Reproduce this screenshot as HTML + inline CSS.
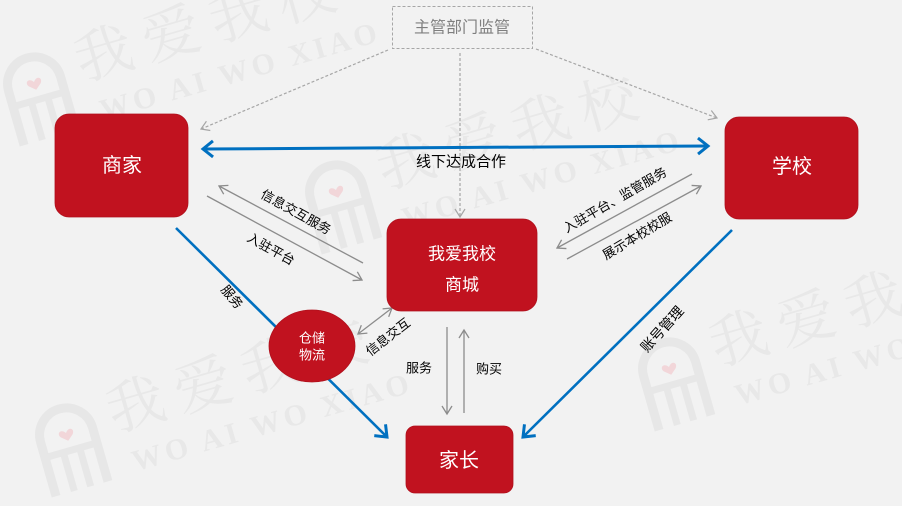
<!DOCTYPE html>
<html><head><meta charset="utf-8"><style>
html,body{margin:0;padding:0;background:#f2f2f2;}
svg{display:block;}
text{font-family:"Liberation Sans","Noto Sans CJK SC",sans-serif;}
.wm{fill:#e8e8e8;}
</style></head><body>
<svg width="902" height="506" viewBox="0 0 902 506" xmlns="http://www.w3.org/2000/svg">
<defs>
<marker id="bh" markerUnits="userSpaceOnUse" markerWidth="24" markerHeight="24" refX="12" refY="12" orient="auto-start-reverse" viewBox="0 0 24 24">
<path d="M2,4 L12,12 L2,20" fill="none" stroke="#0070c0" stroke-width="3"/>
</marker>
<marker id="gh" markerUnits="userSpaceOnUse" markerWidth="20" markerHeight="20" refX="10" refY="10" orient="auto-start-reverse" viewBox="0 0 20 20">
<path d="M2,5 L10,10 L2,15" fill="none" stroke="#8c8c8c" stroke-width="1.3"/>
</marker>
<marker id="dh" markerUnits="userSpaceOnUse" markerWidth="20" markerHeight="20" refX="10" refY="10" orient="auto" viewBox="0 0 20 20">
<path d="M2,5 L10,10 L2,15" fill="none" stroke="#a6a6a6" stroke-width="1.2"/>
</marker>
<g id="wmk">
<path d="M5,88 L5,32 A27,27 0 0 1 59,32 L59,88" fill="none" stroke="#e7e7e7" stroke-width="9"/>
<path d="M5,48 L59,48 M24,48 L24,88 M41,48 L41,88" fill="none" stroke="#e7e7e7" stroke-width="7"/>
<path d="M32,30 C28,24 22,28 26,33 L32,38 L38,33 C42,28 36,24 32,30 Z" fill="#f2d6d9"/>
<text x="78" y="42" font-size="58" class="wm" style="font-family:'Noto Serif CJK SC',serif;letter-spacing:12px">我爱我校</text>
<text x="88" y="86" font-size="30" font-weight="bold" class="wm" style="font-family:'Liberation Serif',serif;letter-spacing:4px">WO AI WO XIAO</text>
</g>
</defs>
<rect width="902" height="506" fill="#f2f2f2"/>
<!-- watermarks -->
<use href="#wmk" transform="translate(-5,62) rotate(-16)"/>
<use href="#wmk" transform="translate(297,170) rotate(-16)"/>
<use href="#wmk" transform="translate(27,413) rotate(-16)"/>
<use href="#wmk" transform="translate(630,347) rotate(-16)"/>

<!-- supervision box -->
<rect x="392.5" y="6.5" width="140" height="42" fill="#f2f2f2" stroke="#a6a6a6" stroke-width="1" stroke-dasharray="3,2"/>
<text x="462" y="28" font-size="16" fill="#7f7f7f" text-anchor="middle" dominant-baseline="central">主管部门监管</text>
<!-- dashed arrows -->
<line x1="388" y1="50" x2="201" y2="129" stroke="#a6a6a6" stroke-width="1.2" stroke-dasharray="3,2" marker-end="url(#dh)"/>
<line x1="460" y1="53" x2="460" y2="217" stroke="#a6a6a6" stroke-width="1.2" stroke-dasharray="3,2" marker-end="url(#dh)"/>
<line x1="536" y1="49" x2="717" y2="118" stroke="#a6a6a6" stroke-width="1.2" stroke-dasharray="3,2" marker-end="url(#dh)"/>

<!-- blue lines -->
<line x1="203" y1="149" x2="708" y2="146" stroke="#0070c0" stroke-width="3" marker-start="url(#bh)" marker-end="url(#bh)"/>
<line x1="176" y1="228" x2="387" y2="437" stroke="#0070c0" stroke-width="2.6" marker-end="url(#bh)"/>
<line x1="732" y1="230" x2="523" y2="437" stroke="#0070c0" stroke-width="2.6" marker-end="url(#bh)"/>

<!-- gray arrows -->
<line x1="363" y1="263" x2="219" y2="186" stroke="#8c8c8c" stroke-width="1.3" marker-end="url(#gh)"/>
<line x1="207" y1="196" x2="362" y2="280" stroke="#8c8c8c" stroke-width="1.3" marker-end="url(#gh)"/>
<line x1="692" y1="174" x2="557" y2="248" stroke="#8c8c8c" stroke-width="1.3" marker-end="url(#gh)"/>
<line x1="567" y1="259" x2="701" y2="186" stroke="#8c8c8c" stroke-width="1.3" marker-end="url(#gh)"/>
<line x1="358" y1="334" x2="392" y2="308" stroke="#8c8c8c" stroke-width="1.3" marker-start="url(#gh)" marker-end="url(#gh)"/>
<line x1="447" y1="327" x2="447" y2="414" stroke="#8c8c8c" stroke-width="1.3" marker-end="url(#gh)"/>
<line x1="464" y1="413" x2="464" y2="330" stroke="#8c8c8c" stroke-width="1.3" marker-end="url(#gh)"/>

<!-- labels -->
<g font-size="13" fill="#000" text-anchor="middle" dominant-baseline="central">
<text x="461" y="162" font-size="15">线下达成合作</text>
<text x="0" y="0" transform="translate(296,212) rotate(29)">信息交互服务</text>
<text x="0" y="0" transform="translate(271,249) rotate(29)">入驻平台</text>
<text x="0" y="0" transform="translate(615,200) rotate(-30)">入驻平台、监管服务</text>
<text x="0" y="0" transform="translate(637,236) rotate(-31)">展示本校校服</text>
<text x="0" y="0" transform="translate(388,337) rotate(-38)">信息交互</text>
<text x="0" y="0" transform="translate(232,297) rotate(50)">服务</text>
<text x="0" y="0" transform="translate(662,329) rotate(-48)" font-size="14">账号管理</text>
<text x="419" y="368">服务</text>
<text x="489" y="369">购买</text>
</g>

<!-- nodes -->
<rect x="55" y="114" width="133" height="103" rx="14" fill="#c1121f" stroke="#b0101c" stroke-width="0.8"/>
<text x="122" y="166" font-size="20" fill="#fff" text-anchor="middle" dominant-baseline="central">商家</text>
<rect x="725" y="117" width="133" height="102" rx="14" fill="#c1121f" stroke="#b0101c" stroke-width="0.8"/>
<text x="792" y="167" font-size="20" fill="#fff" text-anchor="middle" dominant-baseline="central">学校</text>
<rect x="387" y="219" width="150" height="92" rx="14" fill="#c1121f" stroke="#b0101c" stroke-width="0.8"/>
<text x="462" y="254" font-size="17" fill="#fff" text-anchor="middle" dominant-baseline="central">我爱我校</text>
<text x="462" y="285" font-size="17" fill="#fff" text-anchor="middle" dominant-baseline="central">商城</text>
<ellipse cx="312" cy="346" rx="43" ry="36" fill="#c1121f" stroke="#b0101c" stroke-width="0.8"/>
<text x="312" y="338" font-size="13" fill="#fff" text-anchor="middle" dominant-baseline="central">仓储</text>
<text x="312" y="355" font-size="13" fill="#fff" text-anchor="middle" dominant-baseline="central">物流</text>
<rect x="406" y="426" width="107" height="67" rx="9" fill="#c1121f" stroke="#b0101c" stroke-width="0.8"/>
<text x="459" y="461" font-size="20" fill="#fff" text-anchor="middle" dominant-baseline="central">家长</text>
</svg>
</body></html>
